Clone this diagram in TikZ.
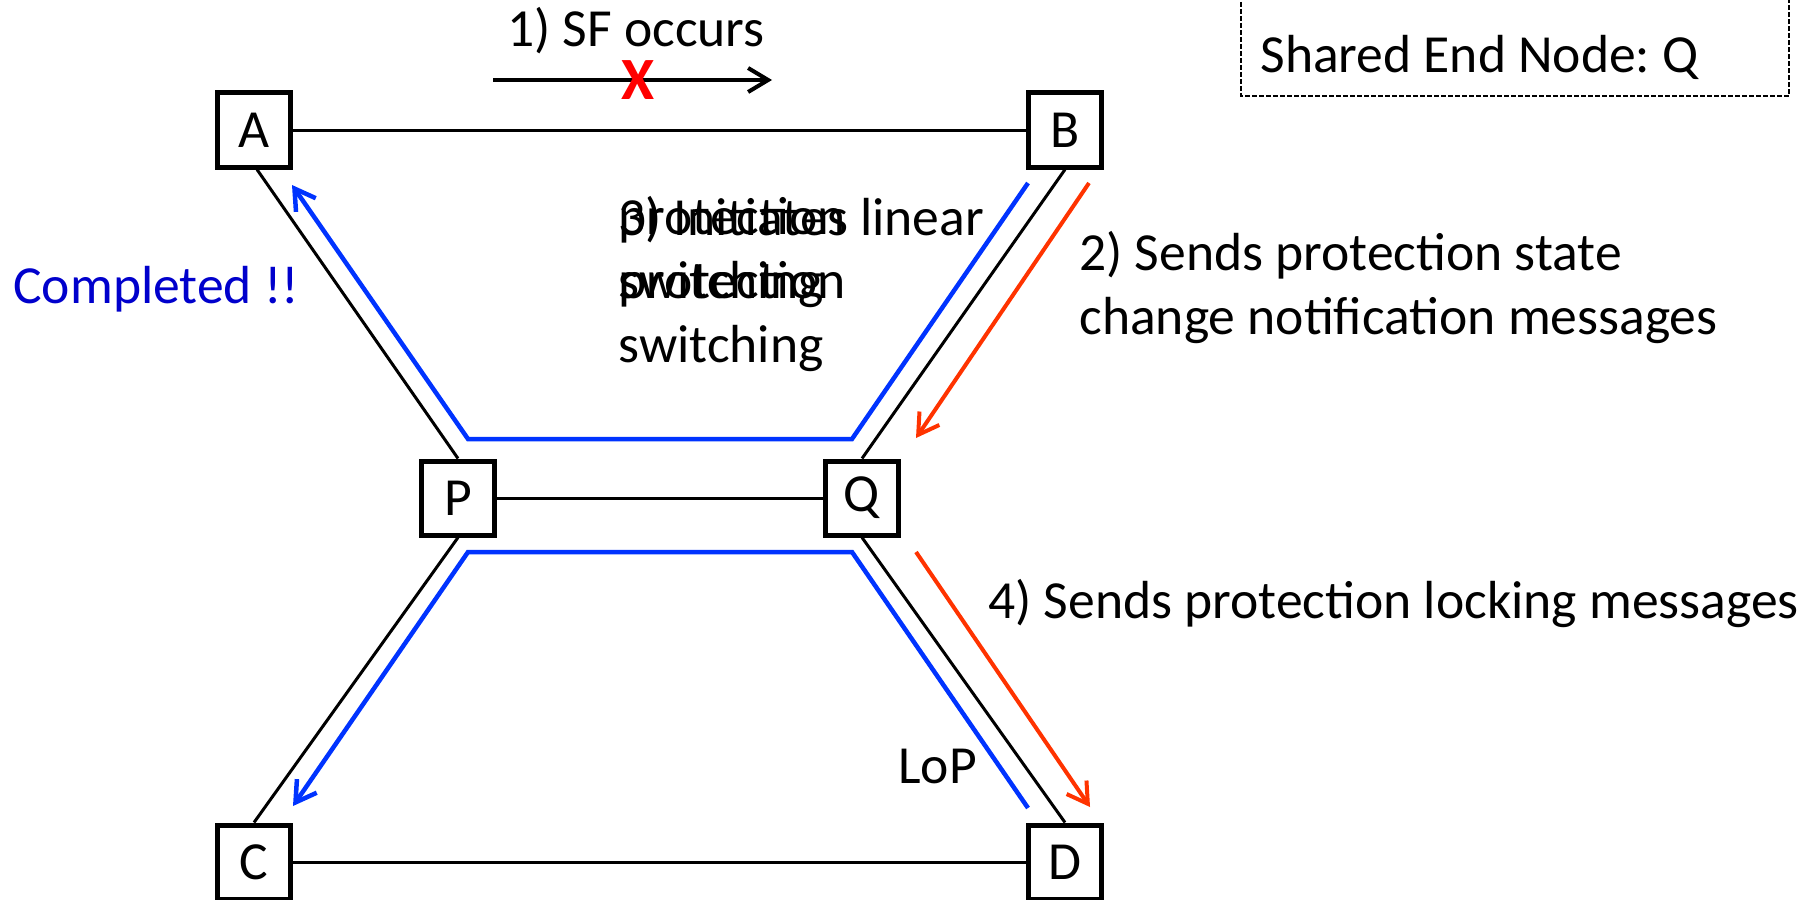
\documentclass[tikz,border=0pt]{standalone}
\usepackage{fontspec}
\setmainfont{Carlito}
\usetikzlibrary{arrows.meta}
\definecolor{pathblue}{RGB}{0,51,255}
\definecolor{msgred}{RGB}{255,51,0}
\definecolor{donecol}{RGB}{0,0,204}
\definecolor{failred}{RGB}{255,0,0}
\frenchspacing
\begin{document}
\begin{tikzpicture}[x=0.5pt,y=-0.5pt,
  every node/.style={font=\fontsize{26.8}{31.6}\selectfont},
  nodebox/.style={draw, line width=2.5pt, minimum width=36.5pt, minimum height=37pt, inner sep=0pt},
  link/.style={line width=1.5pt},
  txt/.style={anchor=base west, inner sep=0pt, align=left},
  barb/.style={-{Straight Barb[length=10pt,width=12pt]}},
  bluepath/.style={draw=pathblue, line width=2.25pt, line join=miter},
  redmsg/.style={draw=msgred, line width=2pt, barb},
]
\useasboundingbox (0,0) rectangle (1818,899);

% ring nodes
\node[nodebox] (A) at (254,130) {A};
\node[nodebox] (B) at (1065,130) {B};
\node[nodebox] (P) at (458,498) {P};
\node[nodebox] (Q) at (862,498) {Q};
\node[nodebox] (C) at (254,862) {C};
\node[nodebox] (D) at (1065,862) {D};

% links
\draw[link] (A) -- (B);
\draw[link] ([xshift=1.5pt]A.south) -- (P.north);
\draw[link] (B.south) -- (Q.north);
\draw[link] (P) -- (Q);
\draw[link] (P.south) -- (C.north);
\draw[link] (Q.south) -- (D.north);
\draw[link] (C) -- (D);

% signal fail on the A-B span
\coordinate (sf0) at (493,80);
\coordinate (sf1) at (772,80);
\draw[line width=2pt, barb] (sf0) -- (sf1);
\node[txt] (sftext) at (507,47) {1) SF occurs};
\node[inner sep=0pt, text=failred, font=\fontsize{30}{30}\selectfont\bfseries] (fail) at (638,80) {X};

% protection switching paths
\coordinate (bt0) at (1028,183);
\coordinate (bt1) at (852,439);
\coordinate (bt2) at (468,439);
\coordinate (bt3) at (292,185);
\draw[bluepath, barb] (bt0) -- (bt1) -- (bt2) -- (bt3);
\coordinate (bb0) at (1028,808);
\coordinate (bb1) at (852,552);
\coordinate (bb2) at (468,552);
\coordinate (bb3) at (293,806);
\draw[bluepath, barb] (bb0) -- (bb1) -- (bb2) -- (bb3);

% messages from Q
\coordinate (r0) at (1089,183);
\coordinate (r1) at (916,438);
\draw[redmsg] (r0) -- (r1);
\coordinate (r2) at (916,552);
\coordinate (r3) at (1090,807);
\draw[redmsg] (r2) -- (r3);

% labels (multi-line nodes sit on the baseline of their last line)
\node[txt] (step2) at (1079,334) {2) Sends protection state\\change notification messages};
\node[txt] (step3) at (618,362) {3) Initiates linear\\protection\\switching};
\node[txt] (step3b) at (618,298) {protection\\switching};
\node[txt] (step4) at (988,618) {4) Sends protection locking messages};
\node[txt] (lop) at (898,783) {LoP};
\node[txt, text=donecol] (done) at (13,303) {Completed !!};

% legend
\draw[line width=0.6pt, dash pattern=on 2.4pt off 1.1pt] (1241,-5) rectangle (1789,96);
\node[txt] (shared) at (1260,73) {Shared End Node: Q};
\end{tikzpicture}
\end{document}
